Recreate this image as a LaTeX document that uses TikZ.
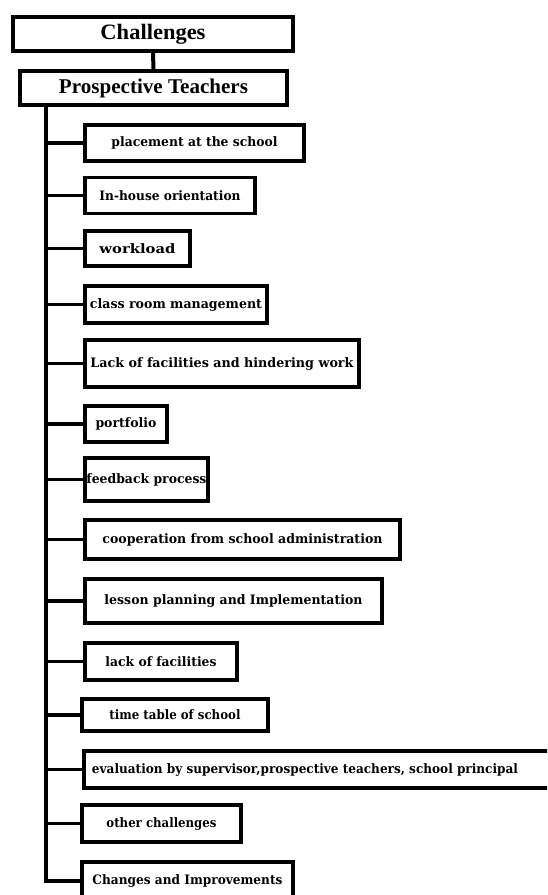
\documentclass[tikz,border=0pt]{standalone}
\usepackage{fontspec}
\usepackage{graphicx}
\setmainfont{Liberation Serif}
\newfontfamily\kidfont{DejaVu Serif}
\tikzset{
  topbox/.style={draw, rectangle, line width=4pt, inner sep=0pt, font=\bfseries\fontsize{22}{24}\selectfont},
  kidbox/.style={draw, rectangle, line width=3.5pt, inner sep=0pt, font=\kidfont\bfseries\fontsize{13}{15}\selectfont},
  kidtxt/.style={inner sep=0pt, font=\kidfont\bfseries\fontsize{13}{15}\selectfont},
  link/.style={line width=3.5pt},
  trunk/.style={line width=4pt, line join=miter}
}
\newcommand\fw[2]{\resizebox{#1pt}{\height}{#2}}
\begin{document}
\begin{tikzpicture}[x=1pt,y=-1pt]
\useasboundingbox (0,0) rectangle (547,895);
\clip (0,0) rectangle (547,895);
\fill[white] (0,0) rectangle (547,895);
% top boxes
\node[topbox, minimum width=280pt, minimum height=34pt] (ch) at (153,34) {\fw{105}{Challenges}};
\node[topbox, minimum width=267pt, minimum height=34pt, font=\bfseries\fontsize{21}{23}\selectfont] (pt) at (153.5,88) {\fw{189}{Prospective Teachers}};
\draw[link, line width=4pt] (ch.south) -- (pt.north);
% children
\node[kidbox, minimum width=219pt, minimum height=36pt] (b1) at (194.5,143) {\fw{166}{placement at the school}};
\node[kidbox, minimum width=170pt, minimum height=36pt] (b2) at (170,195.5) {\fw{141}{In-house orientation}};
\node[kidbox, minimum width=105pt, minimum height=35pt] (b3) at (137.5,248.5) {\fw{76}{workload}};
\node[kidbox, minimum width=182pt, minimum height=37pt] (b4) at (176,304.5) {\fw{172}{class room management}};
\node[kidbox, minimum width=274pt, minimum height=47pt] (b5) at (222,363.5) {\fw{263}{Lack of facilities and hindering work}};
\node[kidbox, minimum width=82pt, minimum height=36pt] (b6) at (126,424) {\fw{61}{portfolio}};
\node[kidbox, minimum width=123pt, minimum height=43pt] (b7) at (146.5,479.5) {\fw{120}{feedback process}};
\node[kidbox, minimum width=315pt, minimum height=39pt] (b8) at (242.5,539.5) {\fw{280}{cooperation from school administration}};
\node[kidbox, minimum width=297pt, minimum height=44pt] (b9) at (233.5,601) {\fw{258}{lesson planning and Implementation}};
\node[kidbox, minimum width=152pt, minimum height=37pt] (b10) at (161,661.5) {\fw{111}{lack of facilities}};
\node[kidbox, minimum width=186pt, minimum height=32pt] (b11) at (175,715) {\fw{131}{time table of school}};
\node[kidbox, minimum width=480pt, minimum height=37pt, anchor=west] (b12) at (82,769.5) {};
\node[kidtxt] (b12t) at (305,769.5) {\fw{426}{evaluation by supervisor,prospective teachers, school principal}};
\node[kidbox, minimum width=159pt, minimum height=37pt] (b13) at (161.5,823.5) {\fw{110}{other challenges}};
\node[kidbox, minimum width=211pt, minimum height=38pt] (b14) at (187.5,881) {\fw{190}{Changes and Improvements}};
% trunk
\coordinate (T) at (46,105);
\draw[trunk] (T) |- (b14.west);
\foreach \b in {b1,b2,b3,b4,b5,b6,b7,b8,b9,b10,b11,b12,b13}
  \draw[link] (\b.west) -- (\b.west -| T);
\end{tikzpicture}
\end{document}
